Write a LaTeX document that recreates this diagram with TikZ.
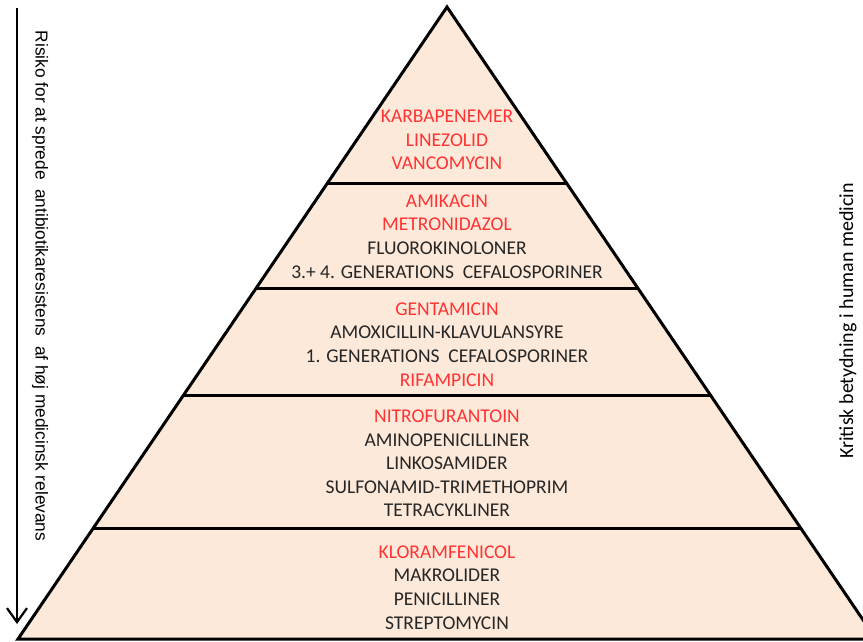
\documentclass[tikz,border=0pt]{standalone}
\usepackage{fontspec}
\setmainfont{Carlito}
\newfontfamily\arialfont{Liberation Sans}
\usetikzlibrary{calc,arrows.meta}
\definecolor{pyrfill}{HTML}{FDE9D9}
\definecolor{redtxt}{RGB}{255,51,51}
\definecolor{darktxt}{HTML}{262626}
\tikzset{
  tiertext/.style={align=center, inner sep=0pt, text=darktxt,
    font=\fontsize{19.5}{23.6}\selectfont},
  divider/.style={line width=3pt, black},
  edge/.style={line width=3pt, black, line join=miter},
}
\newcommand{\rd}[1]{\textcolor{redtxt}{#1}}
\begin{document}
\begin{tikzpicture}[x=1pt,y=-1pt]
\useasboundingbox (0,0) rectangle (863,642);
\coordinate (A) at (447,7);
\coordinate (BL) at (18,639);
\coordinate (BR) at (876,639);
\begin{scope}
\clip (0,0) rectangle (863,642);
\fill[pyrfill] (A) -- (BL) -- (BR) -- cycle;
\foreach \yy [count=\i] in {184,289,395,529} {
  \coordinate (L\i) at ($(A)!{(\yy-7)/632}!(BL)$);
  \coordinate (R\i) at ($(A)!{(\yy-7)/632}!(BR)$);
  \draw[divider] (L\i) -- (R\i);
}
\draw[edge] (BR) -- (A) -- (BL) -- cycle;
\end{scope}

\node[tiertext] (t1) at (447,140) {\rd{KARBAPENEMER}\\\rd{LINEZOLID}\\\rd{VANCOMYCIN}};
\node[tiertext] (t2) at (447,236.5) {\rd{AMIKACIN}\\\rd{METRONIDAZOL}\\FLUOROKINOLONER\\3.+ 4. GENERATIONS\ \ CEFALOSPORINER};
\node[tiertext] (t3) at (447,344.5) {\rd{GENTAMICIN}\\AMOXICILLIN-KLAVULANSYRE\\1. GENERATIONS\ \ CEFALOSPORINER\\\rd{RIFAMPICIN}};
\node[tiertext] (t4) at (447,463.5) {\rd{NITROFURANTOIN}\\AMINOPENICILLINER\\LINKOSAMIDER\\SULFONAMID-TRIMETHOPRIM\\TETRACYKLINER};
\node[tiertext] (t5) at (447,587.5) {\rd{KLORAMFENICOL}\\MAKROLIDER\\PENICILLINER\\STREPTOMYCIN};

\coordinate (arrtop) at (17,8);
\coordinate (arrbot) at (17,624);
\draw[line width=2pt, -{Straight Barb[length=14pt,width=20pt,line width=2.2pt]}] (arrtop) -- (arrbot);
\node[rotate=-90, inner sep=0pt, text=black, font=\arialfont\fontsize{17.3}{19}\selectfont] (lefttxt) at (40,286) {Risiko for at sprede\ \ antibiotikaresistens\ \ af høj medicinsk relevans};
\node[rotate=90, inner sep=0pt, text=black, font=\fontsize{20}{22}\selectfont] (righttxt) at (848,321) {Kritisk betydning i human medicin};
\end{tikzpicture}
\end{document}
